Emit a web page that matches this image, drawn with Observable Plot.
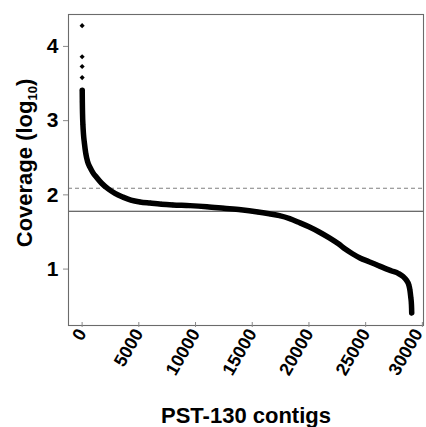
<!DOCTYPE html>
<html>
<head>
<meta charset="utf-8">
<script src="https://cdn.jsdelivr.net/npm/d3@7"></script>
<script src="https://cdn.jsdelivr.net/npm/@observablehq/plot@0.6"></script>
<style>
  html, body { margin: 0; padding: 0; background: #fff; }
  #chart svg { display: block; }
</style>
</head>
<body>
<div id="chart"></div>
<script>
// Contig rank (sorted by coverage, descending) and log10 coverage
const ranks = [1, 2, 3, 4, 10, 20, 40, 70, 120, 200, 320, 480, 700, 950, 1250, 1700, 2300, 2900, 3600, 4300, 5100, 6000, 7000, 8000, 9500, 11000, 12500, 14000, 15500, 16500, 17400, 18300, 19100, 20000, 20900, 21800, 22600, 23200, 23800, 24500, 25300, 26000, 26700, 27300, 27900, 28300, 28600, 28800, 28900, 28980, 29030, 29050, 29060];
const logCoverage = [4.28, 3.86, 3.73, 3.58, 3.41, 3.25, 3.08, 2.95, 2.82, 2.70, 2.56, 2.45, 2.37, 2.30, 2.24, 2.16, 2.08, 2.02, 1.97, 1.93, 1.905, 1.89, 1.875, 1.865, 1.855, 1.84, 1.82, 1.80, 1.77, 1.745, 1.72, 1.68, 1.63, 1.57, 1.50, 1.42, 1.34, 1.27, 1.21, 1.15, 1.10, 1.055, 1.01, 0.975, 0.94, 0.90, 0.85, 0.79, 0.72, 0.62, 0.54, 0.47, 0.41];
const outlierCount = 4;
const solidLine = [1.78];
const dashedLine = [2.09];
const xTicks = [0, 5000, 10000, 15000, 20000, 25000, 30000];
const yTicks = [1, 2, 3, 4];
const xTitle = "PST-130 contigs";
const yTitleMain = "Coverage (log";
const yTitleSub = "10";
const yTitleEnd = ")";

const data = ranks.map((r, i) => ({rank: r, v: logCoverage[i]}));
const curve = data.slice(outlierCount);

const font = "'Liberation Sans', Arial, sans-serif";

const plot = Plot.plot({
  width: 426,
  height: 427,
  marginLeft: 68,
  marginTop: 14,
  marginRight: 3,
  marginBottom: 102,
  style: {fontFamily: font, background: "#fff", color: "#000"},
  x: {domain: [-1200, 30100]},
  y: {domain: [0.24, 4.43]},
  marks: [
    Plot.ruleY(dashedLine, {stroke: "#808080", strokeWidth: 1.1, strokeDasharray: "4,3"}),
    Plot.ruleY(solidLine, {stroke: "#3a3a3a", strokeWidth: 1.1}),
    Plot.line(curve, {x: "rank", y: "v", stroke: "#000", strokeWidth: 5.5, strokeLinecap: "round", strokeLinejoin: "round", curve: "monotone-x"}),
    Plot.dot(data, {x: "rank", y: "v", r: 2.3, fill: "#000", symbol: "diamond2"}),
    Plot.frame({stroke: "#6b6b6b", strokeWidth: 1.1}),
    Plot.axisX({ticks: xTicks, tickFormat: d3.format("d"), tickRotate: -60, tickSize: 5, tickPadding: 3, dy: -3, stroke: "#8a8a8a", fontSize: 18, fontWeight: "bold", label: null}),
    Plot.axisY({ticks: yTicks, tickFormat: d3.format("d"), tickSize: 5, tickPadding: 5, stroke: "#8a8a8a", fontSize: 21, fontWeight: "bold", label: null})
  ]
});

const svg = d3.select(plot);
// keep the last rotated tick label inside the picture
svg.selectAll("text").filter(function() { return this.textContent === "30000"; })
  .each(function() {
    const t = this.getAttribute("transform") || "";
    this.setAttribute("transform", "translate(-4,0) " + t);
  });
// X title
svg.append("text")
  .attr("x", 246).attr("y", 423)
  .attr("text-anchor", "middle")
  .attr("font-family", font).attr("font-weight", "bold").attr("font-size", 22)
  .attr("fill", "#000")
  .text(xTitle);
// Y title with subscript
const yt = svg.append("text")
  .attr("transform", "translate(32,163) rotate(-90)")
  .attr("text-anchor", "middle")
  .attr("font-family", font).attr("font-weight", "bold").attr("font-size", 22)
  .attr("fill", "#000");
yt.append("tspan").text(yTitleMain);
yt.append("tspan").attr("font-size", 13).attr("dy", 5).text(yTitleSub);
yt.append("tspan").attr("dy", -5).text(yTitleEnd);

document.getElementById("chart").appendChild(plot);
</script>
</body>
</html>
